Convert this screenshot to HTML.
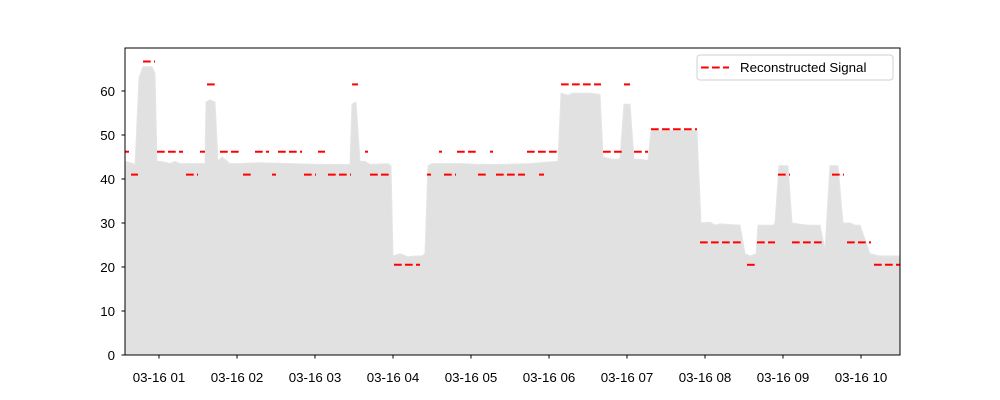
<!DOCTYPE html>
<html><head><meta charset="utf-8">
<style>
html,body{margin:0;padding:0;background:#fff;}
svg{display:block;font-family:"Liberation Sans","DejaVu Sans",sans-serif;}
</style></head>
<body>
<svg id="chart" width="1000" height="400" viewBox="0 0 1000 400">
<g id="plot"></g>
</svg>
<script>
// Grey area series: time (hours since 03-16 00:00) and value
const areaTimes = [0.564,0.667,0.692,0.744,0.795,0.910,0.949,0.974,1.013,1.077,1.141,1.205,1.269,1.397,1.526,1.590,1.603,1.654,1.718,1.756,1.808,1.910,2.038,2.295,2.679,3.064,3.449,3.474,3.526,3.577,3.641,3.705,3.936,3.974,4.000,4.090,4.192,4.282,4.372,4.410,4.449,4.500,4.603,4.859,5.115,5.372,5.756,5.949,6.115,6.154,6.244,6.295,6.526,6.654,6.692,6.808,6.910,6.962,7.038,7.090,7.167,7.269,7.308,7.359,7.808,7.897,7.949,8.064,8.128,8.192,8.449,8.513,8.577,8.654,8.679,8.872,8.897,8.949,9.064,9.115,9.218,9.321,9.474,9.538,9.603,9.705,9.769,9.859,9.923,9.987,10.115,10.244,10.500];
const areaValues = [44,43.5,43,63,65.5,65.5,64,44,44,43.8,43.5,44,43.5,43.5,43.5,43.5,57.5,58,57.5,44,45,43.5,43.5,43.7,43.5,43.3,43.3,57,57.5,44,44,43.3,43.5,43,22.5,23,22.3,22.5,22.5,23,43,43.5,43.5,43.5,43.3,43.3,43.5,43.8,44,59.5,59,59.5,59.5,59.2,45,44.5,44.5,57,57,44.5,44.5,44.2,51,51,51,51,30,30.2,29.5,29.8,29.5,23,22.5,23,29.5,29.5,30,43,43,30,29.7,29.5,29.5,24,43,43,30,30,29.5,29.5,23,22.5,22.5];
// Reconstructed signal segments: start hour, end hour, level
const segStart = [0.795,1.615,3.475,6.154,6.962,0.564,0.974,1.526,1.782,2.231,2.526,3.038,3.641,4.590,4.821,5.244,5.718,6.692,7.090,0.641,1.346,2.077,2.449,2.859,3.167,3.705,4.436,4.654,5.090,5.321,5.872,8.936,9.628,4.013,8.538,10.167,7.308,7.936,8.667,9.115,9.821];
const segEnd   = [0.949,1.718,3.551,6.667,7.038,0.615,1.308,1.590,2.026,2.410,2.833,3.128,3.679,4.628,5.064,5.282,6.115,6.936,7.269,0.731,1.500,2.179,2.500,3.013,3.462,3.949,4.487,4.808,5.192,5.692,5.936,9.090,9.782,4.346,8.641,10.500,7.897,8.462,8.897,9.500,10.128];
const segLevel = [66.7,61.5,61.5,61.5,61.5,46.2,46.2,46.2,46.2,46.2,46.2,46.2,46.2,46.2,46.2,46.2,46.2,46.2,46.2,41,41,41,41,41,41,41,41,41,41,41,41,41,41,20.5,20.5,20.5,51.3,25.6,25.6,25.6,25.6];
const yTicks = [0,10,20,30,40,50,60];
const xTicks = [1,2,3,4,5,6,7,8,9,10];
const xTickLabels = ["03-16 01","03-16 02","03-16 03","03-16 04","03-16 05","03-16 06","03-16 07","03-16 08","03-16 09","03-16 10"];

const L=125,R=900,T=48,B=355;
const xMin=0.564,xMax=10.5,yMin=0,yMax=69.77;
const X=h=>L+(h-xMin)/(xMax-xMin)*(R-L);
const Y=v=>B-(v-yMin)/(yMax-yMin)*(B-T);
const NS="http://www.w3.org/2000/svg";
const g=document.getElementById('plot');
function mk(tag,attrs,parent){const e=document.createElementNS(NS,tag);for(const k in attrs)e.setAttribute(k,attrs[k]);(parent||g).appendChild(e);return e;}

const defs=mk('defs',{});
const cp=mk('clipPath',{id:'clip'},defs);
mk('rect',{x:L,y:T,width:R-L,height:B-T},cp);

let d='M'+X(areaTimes[0])+','+Y(0);
for(let i=0;i<areaTimes.length;i++) d+=' L'+X(areaTimes[i]).toFixed(1)+','+Y(areaValues[i]).toFixed(1);
d+=' L'+X(areaTimes[areaTimes.length-1])+','+Y(0)+' Z';
const area=mk('path',{d:d,fill:'#e0e1e0',stroke:'#e4e5e4','stroke-width':1,'clip-path':'url(#clip)'});



for(let i=0;i<segStart.length;i++){
  const s=mk('line',{x1:X(segStart[i]).toFixed(1),x2:X(segEnd[i]).toFixed(1),y1:Y(segLevel[i]).toFixed(1),y2:Y(segLevel[i]).toFixed(1),stroke:'#ff0000','stroke-width':2,'stroke-dasharray':'7.7 3.3','clip-path':'url(#clip)'});
  
  
}

const fr=mk('rect',{x:L,y:T,width:R-L,height:B-T,fill:'none',stroke:'#000','stroke-width':1});



yTicks.forEach(v=>{
  const y=Y(v);
  const t=mk('line',{x1:L-3.5,x2:L,y1:y,y2:y,stroke:'#000','stroke-width':1});
  
  
  const tx=mk('text',{x:L-10,y:y+5,'text-anchor':'end','font-size':'13.3px',fill:'#000'});
  tx.textContent=v;
  
  
});
xTicks.forEach((h,i)=>{
  const x=X(h);
  const t=mk('line',{x1:x,x2:x,y1:B,y2:B+3.5,stroke:'#000','stroke-width':1});
  
  
  const tx=mk('text',{x:x,y:B+27,'text-anchor':'middle','font-size':'13.3px',fill:'#000'});
  tx.textContent=xTickLabels[i];
  
  
});

const lg=mk('g',{});


mk('rect',{x:697,y:55,width:196,height:25,rx:3,fill:'#fff','fill-opacity':0.8,stroke:'#d0d0d0','stroke-width':1},lg);
const ll=mk('line',{x1:701,x2:729,y1:67.5,y2:67.5,stroke:'#ff0000','stroke-width':2,'stroke-dasharray':'7.7 3.3'},lg);


const lt=mk('text',{x:740,y:72,'font-size':'13.3px',fill:'#000'},lg);
lt.textContent='Reconstructed Signal';


</script>
</body></html>
